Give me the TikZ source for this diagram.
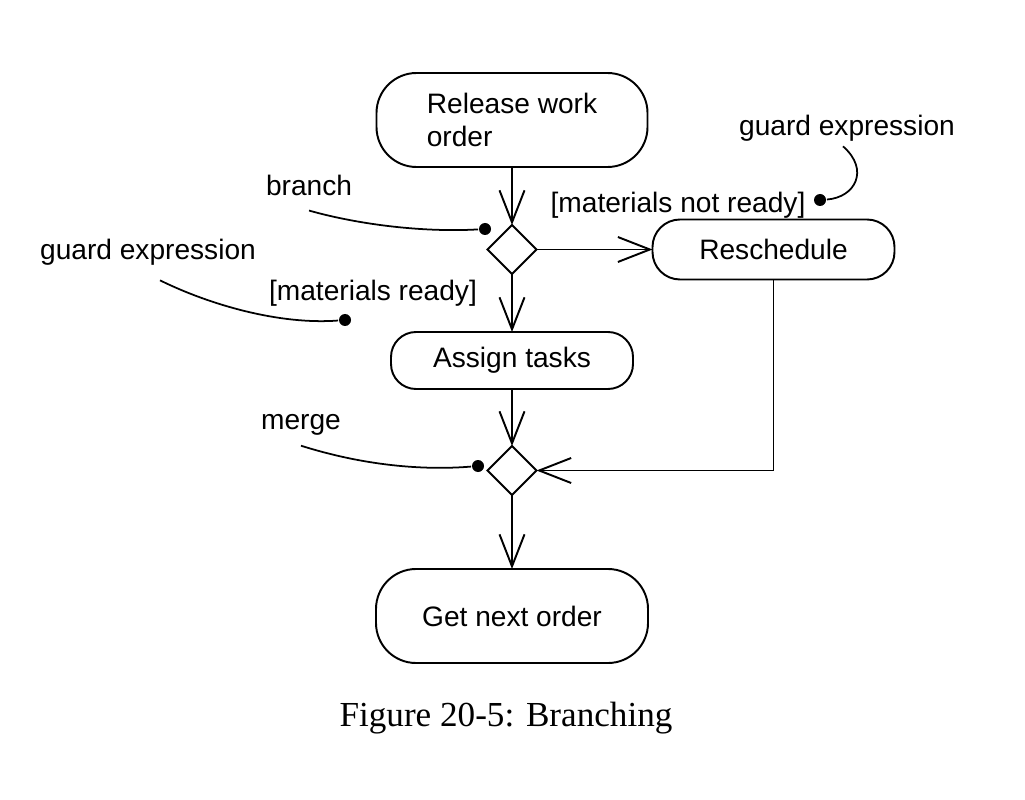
\documentclass[tikz,border=0pt]{standalone}
\usepackage{fontspec}
\setmainfont{Liberation Sans}
\newfontfamily\capfont{Liberation Serif}
\usetikzlibrary{positioning,shapes.geometric,arrows.meta}

\begin{document}
\begin{tikzpicture}[line width=1.1pt,node distance=1.16cm,
    flow/.style={-{Straight Barb[length=6.4mm,width=5mm]}},
    action node/.style={draw,rectangle,inner sep=0pt,outer sep=0pt,font=\fontsize{16}{19}\selectfont},
    decision node/.style={draw,diamond,inner sep=0pt,outer sep=0pt,minimum width=0.98cm,minimum height=0.98cm},
    note node/.style={font=\fontsize{16}{19}\selectfont,inner sep=1pt},
    pin dot/.style={circle,fill,inner sep=0pt,minimum size=0.24cm},
    lead/.style={line width=1pt}]
    \useasboundingbox (0,0) rectangle (20.5,-16);

    \node[action node, minimum width=5.42cm, minimum height=1.88cm, rounded corners=0.8cm, align=left] (release) at (10.24,-2.4) {Release work\\order};
    \node[decision node] (branch) [below = of release] {};
    \node[action node, minimum width=4.84cm, minimum height=1.2cm, rounded corners=0.55cm] (resched) [right = 2.32cm of branch] {Reschedule};
    \node[action node, minimum width=4.84cm, minimum height=1.14cm, rounded corners=0.5cm] (assign) [below = 1.16cm of branch] {Assign tasks};
    \node[decision node] (merge) [below = 1.14cm of assign] {};
    \node[action node, minimum width=5.44cm, minimum height=1.88cm, rounded corners=0.8cm] (next) [below = 1.48cm of merge] {Get next order};

    \path[flow]
        (release) edge (branch)
        (branch) edge (resched)
        (branch) edge (assign)
        (assign) edge (merge)
        (merge) edge (next)
        ;
    \draw[flow] (resched.south) |- (merge.east);

    % guards and notes
    \node[note node] (notready) at (13.56,-4.1) {[materials not ready]};
    \node[note node] (ready) at (7.46,-5.86) {[materials ready]};
    \node[note node] (branchlbl) at (6.18,-3.7) {branch};
    \node[note node] (mergelbl) at (6.02,-8.5) {merge};
    \node[note node] (guardA) at (16.94,-2.56) {guard expression};
    \node[note node] (guardB) at (2.96,-5.04) {guard expression};

    \node[pin dot] (branchdot) at (9.7,-4.58) {};
    \node[pin dot] (readydot) at (6.9,-6.4) {};
    \node[pin dot] (mergedot) at (9.56,-9.32) {};
    \node[pin dot] (notreadydot) at (16.4,-4.0) {};

    \draw[lead] ([yshift=-0.25cm]branchlbl.south) .. controls (7.2,-4.5) and (8.5,-4.65) .. (branchdot);
    \draw[lead] ([xshift=0.24cm,yshift=-0.25cm]guardB.south) .. controls (4.2,-6.1) and (5.6,-6.5) .. (readydot);
    \draw[lead] ([yshift=-0.15cm]mergelbl.south) .. controls (7.4,-9.35) and (8.6,-9.4) .. (mergedot);
    \draw[lead] ([xshift=-0.08cm,yshift=-0.05cm]guardA.south) .. controls (17.4,-3.4) and (17.1,-3.95) .. (notreadydot);

    \node[font=\capfont\fontsize{20}{24}\selectfont] (caption) at (10.12,-14.36) {Figure 20-5: Branching};
\end{tikzpicture}
\end{document}
